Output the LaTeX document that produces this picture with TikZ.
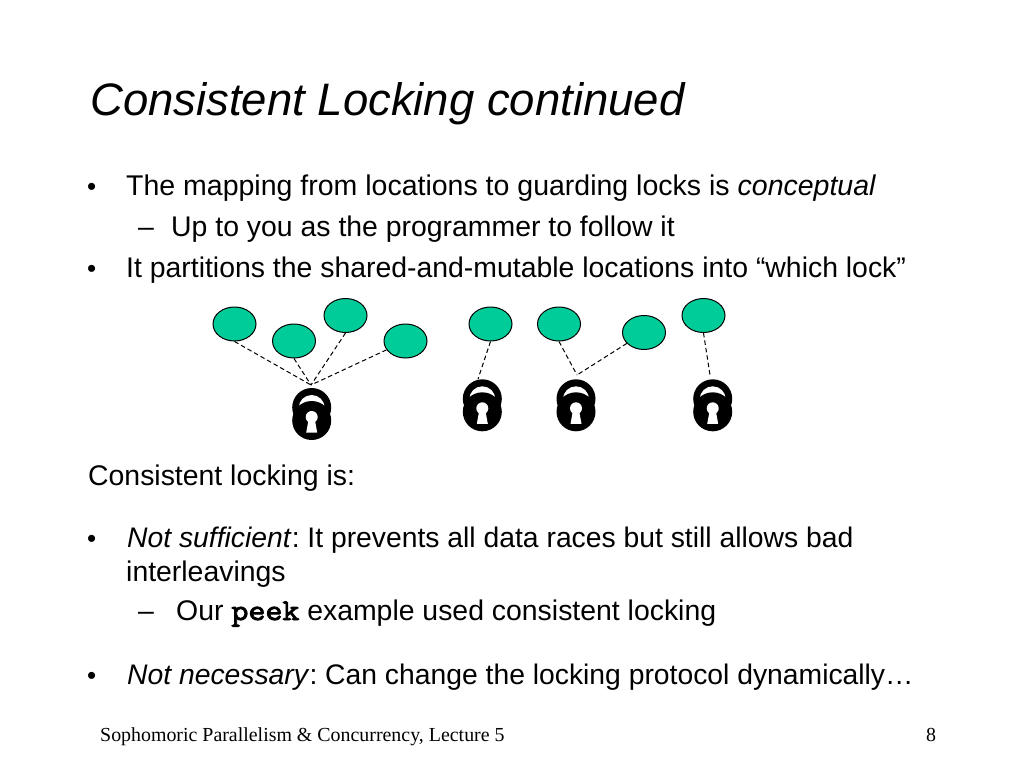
\documentclass[tikz,border=0pt]{standalone}
\usepackage{fontspec}
\setmainfont{Liberation Sans}
\newfontfamily\footfont{Liberation Serif}
\newfontfamily\codefont[FakeBold=3,FakeStretch=1.1]{Latin Modern Mono}
\usetikzlibrary{shapes.geometric}
\definecolor{loc}{RGB}{0,204,153}
\newcommand{\drawdash}{\draw[dash pattern=on 4.5pt off 3pt,line width=1pt]}
\newcommand{\drawlock}[2]{
    \fill[black] (#1,#2+19.5) circle (19.5pt);
    \fill[white] (#1,#2+20) circle (13pt);
    \fill[black] (#1,#2+32.5) circle (19.5pt);
    \fill[white] (#1,#2+29) circle (6pt);
    \fill[white] (#1-3,#2+31)--(#1+3,#2+31)--(#1+5.5,#2+44.5)--(#1-5.5,#2+44.5)--cycle;
}
\tikzset{
    line/.style={anchor=base west,inner sep=0pt,font=\fontsize{28.4pt}{28.4pt}\selectfont},
    bulletmark/.style={anchor=base west,inner sep=0pt,font=\fontsize{26pt}{26pt}\selectfont},
    foot/.style={anchor=base west,inner sep=0pt,font=\fontsize{19.9pt}{19.9pt}\selectfont\footfont},
    locnode/.style={ellipse,draw=black,line width=1pt,fill=loc,inner sep=0pt,minimum width=43pt,minimum height=34pt}
}
\begin{document}
\frenchspacing
\begin{tikzpicture}[x=1pt,y=-1pt]
\useasboundingbox (0,0) rectangle (1024,768);
\node[line,font=\fontsize{45.5pt}{45.5pt}\selectfont\itshape] (title) at (90,115) {Consistent Locking continued};
\node[bulletmark] (bulletA) at (87,195) {•};
\node[line,font=\fontsize{28.5pt}{28.5pt}\selectfont] (mapping) at (126,195) {The mapping from locations to guarding locks is \textit{conceptual}};
\node[line] (dashA) at (138,236) {–};
\node[line] (upto) at (171,236) {Up to you as the programmer to follow it};
\node[bulletmark] (bulletB) at (87,277) {•};
\node[line] (partitions) at (126,277) {It partitions the shared-and-mutable locations into “which lock”};
\node[line] (consistent) at (88,485) {Consistent locking is:};
\node[bulletmark] (bulletC) at (87,547) {•};
\node[line,font=\fontsize{28.3pt}{28.3pt}\selectfont] (sufficient) at (127,547) {\textit{Not sufficient}: It prevents all data races but still allows bad};
\node[line] (interleavings) at (126,581) {interleavings};
\node[line] (dashB) at (138,620) {–};
\node[line] (peek) at (176,620) {Our {\fontsize{30pt}{30pt}\selectfont\codefont peek} example used consistent locking};
\node[bulletmark] (bulletD) at (87,684) {•};
\node[line,font=\fontsize{28.3pt}{28.3pt}\selectfont] (necessary) at (127,684) {\textit{Not necessary}: Can change the locking protocol dynamically…};
\node[foot] (footer) at (100,741) {Sophomoric Parallelism \& Concurrency, Lecture 5};
\node[foot] (pagenum) at (926,741) {8};
% locations
\node[locnode] (locA) at (234.5,324) {};
\node[locnode] (locB) at (294,341) {};
\node[locnode] (locC) at (345.5,315.5) {};
\node[locnode] (locD) at (405.5,341) {};
\node[locnode] (locE) at (490.5,324) {};
\node[locnode] (locF) at (559,324) {};
\node[locnode] (locG) at (644,332.5) {};
\node[locnode] (locH) at (703.5,315.5) {};
% locks
\drawlock{311.7}{388}\drawlock{482.3}{379.3}\drawlock{576}{379.3}\drawlock{712.7}{379.3}
\coordinate (hubA) at (311,385);
\coordinate (hubB) at (478,379);
\coordinate (hubC) at (577,375);
\coordinate (hubD) at (710,375);
\drawdash (locA.south)--(hubA);
\drawdash (locB.south)--(hubA);
\drawdash (locC.south)--(hubA);
\drawdash (locD)--(hubA);
\drawdash (locE.south)--(hubB);
\drawdash (locF.south)--(hubC);
\drawdash (locG)--(hubC);
\drawdash (locH.south)--(hubD);
\end{tikzpicture}
\end{document}
